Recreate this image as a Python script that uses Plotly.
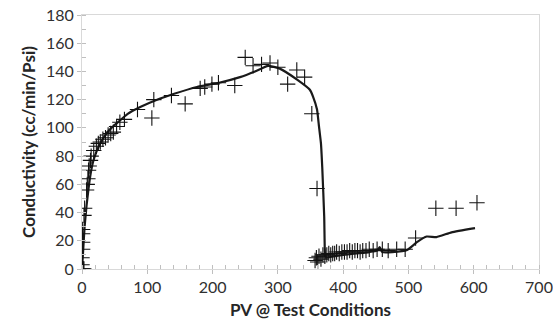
import plotly.graph_objects as go

# Measured points (markers)
pts_x = [0, 1, 2, 3, 0, 0, 1, 1, 1, 1, 3, 4, 7, 8, 9, 10, 11, 13, 14, 18, 22, 25, 28, 32, 36, 40,
         44, 48, 53, 58, 65, 85, 107, 110, 137, 158, 181, 188, 199, 209, 234, 250, 262, 275, 288,
         300, 315, 329, 341, 352, 360,
         357, 359, 361, 363, 366, 369, 372, 375, 378, 381, 384, 387, 390, 394, 398, 402, 406, 410,
         414, 418, 422, 426, 430, 435, 440, 446, 452, 460, 469, 482, 495,
         511, 542, 573, 605]
pts_y = [0, 0, 0, 0, 3, 8, 14, 19, 25, 28, 38, 43, 56, 60, 64, 70, 73, 77, 80, 84, 87, 89, 90, 92, 93, 95,
         96, 97, 101, 104, 106, 113, 107, 120, 123, 117, 128, 129, 131, 132, 130, 150, 144, 145, 146,
         143, 131, 141, 136, 110, 57,
         6, 8, 5, 9, 7, 10, 9, 10, 11, 10, 11, 11, 12, 11, 12, 12, 12, 13,
         12, 13, 13, 12, 13, 13, 14, 13, 14, 14, 13, 14, 14,
         22, 43, 43, 47]

# Trend line
fit_x = [0, 2, 4, 7, 10, 13, 17, 22, 28, 36, 45, 55, 70, 90, 115, 140, 176, 210, 242, 265, 285, 303,
         330, 349, 354, 360, 363, 366, 368, 371, 372, 373, 385, 400, 420, 440, 452, 456, 460, 475, 498,
         513, 528, 543, 566, 602]
fit_y = [0, 15, 30, 45, 57, 67, 76, 83, 89, 95, 100, 104, 110, 115, 120, 124, 129, 132, 136, 140, 144, 142,
         134, 127, 122, 113, 101, 89, 72, 37, 12, 8, 9, 10, 11, 12, 13, 15.5, 12, 12, 13.5,
         19, 23, 22.6, 26, 29]

fig = go.Figure()
fig.add_trace(go.Scatter(x=fit_x, y=fit_y, mode="lines",
                         line=dict(color="#1a1a1a", width=2.2, shape="spline", smoothing=0.4),
                         showlegend=False, hoverinfo="skip"))
fig.add_trace(go.Scatter(x=pts_x, y=pts_y, mode="markers",
                         marker=dict(symbol="cross-thin", size=11,
                                     line=dict(color="#111111", width=1.1)),
                         showlegend=False))

font_tick = dict(family="Lato, Carlito, sans-serif", size=16, color="#303030")
font_title = dict(family="Lato, Carlito, sans-serif", size=17, color="#262626")

fig.update_layout(
    width=553, height=332,
    margin=dict(l=82, r=14, t=15, b=63, autoexpand=False),
    paper_bgcolor="white", plot_bgcolor="white",
)
fig.update_xaxes(range=[0, 700], dtick=100, tick0=0, showgrid=False, zeroline=False,
                 automargin=False,
                 showline=True, linecolor="#d9d9d9", linewidth=1, mirror=True,
                 ticks="outside", ticklen=4, tickcolor="#bfbfbf",
                 minor=dict(dtick=20, ticks="inside", ticklen=4, tickcolor="#bfbfbf"),
                 tickfont=font_tick,
                 title=dict(text="<b>PV @ Test Conditions</b>", font=font_title, standoff=8))
fig.update_yaxes(range=[0, 180], dtick=20, tick0=0, showgrid=False, zeroline=False,
                 automargin=False,
                 showline=True, linecolor="#d9d9d9", linewidth=1, mirror=True,
                 ticks="outside", ticklen=4, tickcolor="#bfbfbf",
                 minor=dict(dtick=10, ticks="inside", ticklen=4, tickcolor="#bfbfbf"),
                 tickfont=font_tick,
                 title=dict(text="<b>Conductivity (cc/min/Psi)</b>", font=font_title, standoff=6))

fig.write_html("out.html")
